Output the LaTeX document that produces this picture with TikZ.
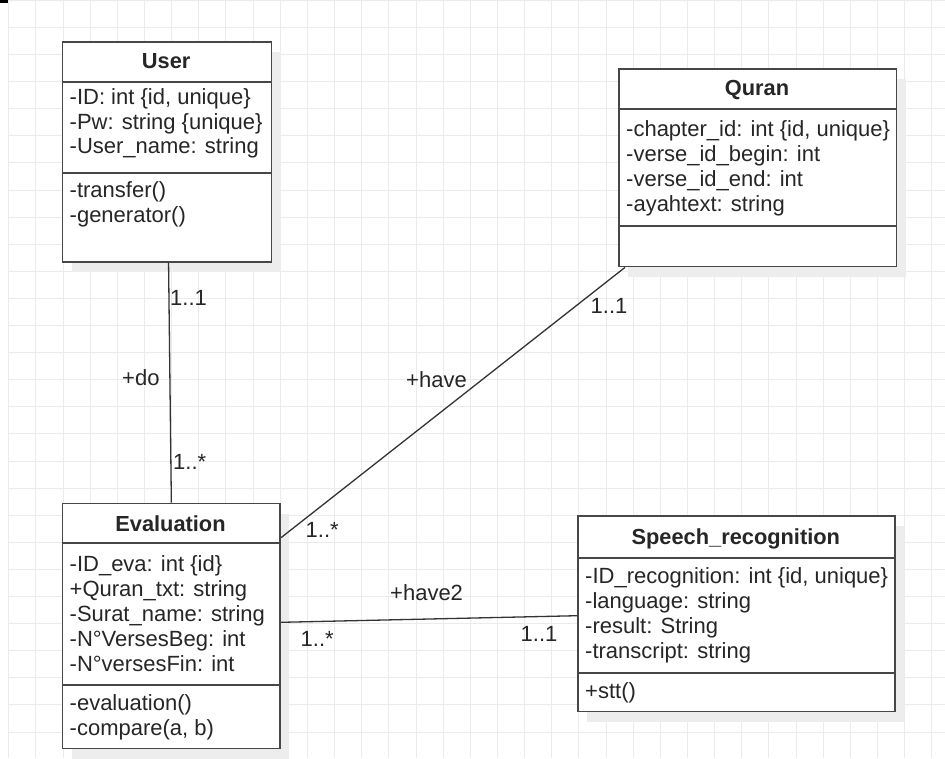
\documentclass[tikz,border=0pt]{standalone}
\usepackage{fontspec}
\setmainfont{Liberation Sans}
\begin{document}
\begin{tikzpicture}[x=1pt,y=-1pt,
  font=\fontsize{22}{25}\selectfont,
  gridline/.style={draw=black!8, line width=0.9pt},
  shadowbox/.style={fill=black!7, draw=none},
  umlbox/.style={draw=black!72, line width=1.7pt, fill=white, rectangle, inner sep=0pt, anchor=north west},
  sepline/.style={draw=black!72, line width=1.7pt},
  head/.style={anchor=base, inner sep=0pt, font=\fontsize{21.8}{25}\selectfont\bfseries, text=black!85},
  member/.style={anchor=base west, inner sep=0pt, text=black!85},
  mult/.style={anchor=base west, inner sep=0pt, text=black!85},
  assoc/.style={draw=black!80, line width=1.3pt}]

% canvas
\useasboundingbox (0,0) rectangle (945,758);
\fill[white] (0,0) rectangle (945,758);
\fill[black] (0,0) rectangle (8,2.5);

% background grid
\foreach \k in {0,...,34} { \draw[gridline] (8.7+27.15*\k,0) -- (8.7+27.15*\k,758); }
\foreach \k in {0,...,27} { \draw[gridline] (8.7,0.3+27.1*\k) -- (945,0.3+27.1*\k); }

% shadows
\fill[shadowbox] (71.7,52) rectangle (280.7,272);
\fill[shadowbox] (628.3,79.3) rectangle (905.7,276.7);
\fill[shadowbox] (71.7,513.7) rectangle (289.3,758.5);
\fill[shadowbox] (587.3,526.3) rectangle (904.3,721.7);

% class boxes
\node[umlbox, minimum width=209pt, minimum height=220pt] (user) at (61.7,41) {};
\node[umlbox, minimum width=277.4pt, minimum height=197.4pt] (quran) at (618.3,68.3) {};
\node[umlbox, minimum width=217.6pt, minimum height=244.8pt] (eval) at (61.7,502.7) {};
\node[umlbox, minimum width=317pt, minimum height=195.4pt] (speech) at (577.3,515.3) {};

% compartment separators
\draw[sepline] (user.west |- 0,81.7) -- (user.east |- 0,81.7);
\draw[sepline] (user.west |- 0,172.7) -- (user.east |- 0,172.7);
\draw[sepline] (quran.west |- 0,109) -- (quran.east |- 0,109);
\draw[sepline] (quran.west |- 0,226) -- (quran.east |- 0,226);
\draw[sepline] (eval.west |- 0,543.3) -- (eval.east |- 0,543.3);
\draw[sepline] (eval.west |- 0,685) -- (eval.east |- 0,685);
\draw[sepline] (speech.west |- 0,557.7) -- (speech.east |- 0,557.7);
\draw[sepline] (speech.west |- 0,673.3) -- (speech.east |- 0,673.3);

% User
\node[head] (userT) at (166.2,68.5) {User};
\node[member] (u1) at (69.5,104.5) {-ID: int \{id, unique\}};
\node[member] (u2) at (69.5,129) {-Pw: string \{unique\}};
\node[member] (u3) at (69.5,153.5) {-User\_name: string};
\node[member] (u4) at (69.5,197.5) {-transfer()};
\node[member] (u5) at (69.5,222) {-generator()};

% Quran
\node[head] (quranT) at (757,95.7) {Quran};
\node[member] (q1) at (626,136) {-chapter\_id: int \{id, unique\}};
\node[member] (q2) at (626,161) {-verse\_id\_begin: int};
\node[member] (q3) at (626,186) {-verse\_id\_end: int};
\node[member] (q4) at (626,211) {-ayahtext: string};

% Evaluation
\node[head] (evalT) at (170.5,531) {Evaluation};
\node[member] (e1) at (69.5,571) {-ID\_eva: int \{id\}};
\node[member] (e2) at (69.5,596) {+Quran\_txt: string};
\node[member] (e3) at (69.5,621.5) {-Surat\_name: string};
\node[member] (e4) at (69.5,646.5) {-N°VersesBeg: int};
\node[member] (e5) at (69.5,671.5) {-N°versesFin: int};
\node[member] (e6) at (69.5,710.5) {-evaluation()};
\node[member] (e7) at (69.5,735) {-compare(a, b)};

% Speech_recognition
\node[head] (speechT) at (735.8,544.5) {Speech\_recognition};
\node[member] (s1) at (585,583.5) {-ID\_recognition: int \{id, unique\}};
\node[member] (s2) at (585,608.5) {-language: string};
\node[member] (s3) at (585,633.5) {-result: String};
\node[member] (s4) at (585,658.5) {-transcript: string};
\node[member] (s5) at (585,698.5) {+stt()};

% associations
\draw[assoc] ([xshift=1.5pt]user.south) -- (eval.north);
\draw[assoc] ([xshift=6.7pt]quran.south west) -- ([yshift=-35pt]eval.north east);
\draw[assoc] ([yshift=-119.6pt]eval.north east) -- ([yshift=-100.4pt]speech.north west);

% association labels and multiplicities
\node[mult] (m1) at (170,305) {1..1};
\node[mult] (r1) at (122,385.7) {+do};
\node[mult] (m2) at (173,469.3) {1..*};
\node[mult] (r2) at (406,387.3) {+have};
\node[mult] (m3) at (590.5,313.3) {1..1};
\node[mult] (m4) at (305.5,537.3) {1..*};
\node[mult] (r3) at (390,600) {+have2};
\node[mult] (m5) at (300.5,646.7) {1..*};
\node[mult] (m6) at (520.5,641.7) {1..1};
\end{tikzpicture}
\end{document}
